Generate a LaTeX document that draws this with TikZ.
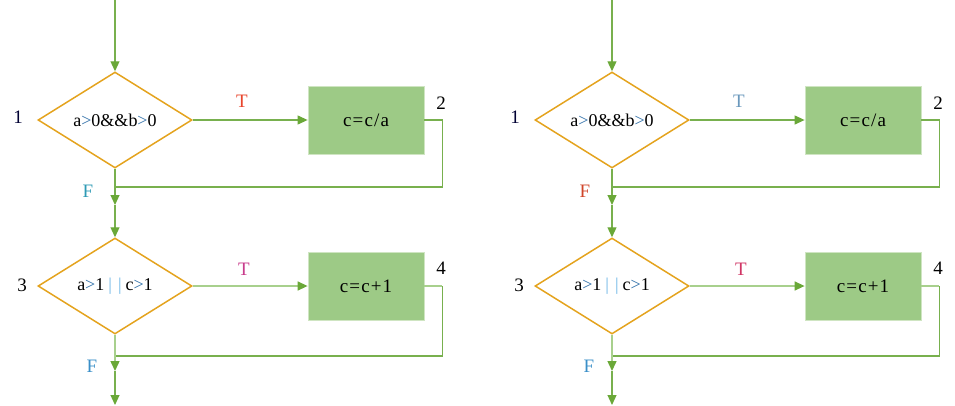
\documentclass[tikz,border=0pt]{standalone}
\usepackage{fontspec}
\setmainfont{Liberation Serif}
\usetikzlibrary{shapes.geometric,arrows.meta}
\definecolor{lnG}{HTML}{78B04E}
\definecolor{lnL}{HTML}{A8D08D}
\definecolor{tipG}{HTML}{6AA838}
\definecolor{dmO}{HTML}{E4A31E}
\definecolor{bxG}{HTML}{9DCA86}
\definecolor{bxB}{HTML}{CFE5C2}
\definecolor{gtB}{HTML}{2F6FA8}
\definecolor{barB}{HTML}{6DB6E6}
\tikzset{
  dec/.style={diamond,draw=dmO,line width=1.5pt,minimum width=154pt,minimum height=96pt,inner sep=0pt,font=\fontsize{18}{18}\selectfont},
  proc/.style={rectangle,fill=bxG,draw=bxB,line width=0.8pt,minimum width=116pt,minimum height=68pt,inner sep=0pt,font=\fontsize{19}{19}\selectfont\addfontfeature{LetterSpace=6}},
  flow/.style={draw=lnG,line width=1.2pt},
  flowL/.style={draw=lnL,line width=1.4pt},
  arr/.style={-{Triangle[length=10pt,width=9pt,color=tipG]}},
  lab/.style={font=\fontsize{19}{19}\selectfont,inner sep=0pt}
}
\newcommand{\gt}{\textcolor{gtB}{>}}
\newcommand{\br}{\textcolor{barB}{|}}
\begin{document}
\begin{tikzpicture}[x=1pt,y=-1pt]
\useasboundingbox (0,0) rectangle (955,405);
\foreach \p/\ox/\ca/\cb/\cc/\cd in {L/0/E8452C/2E9AB5/C83C8C/3A8FC8, R/497/6A98BC/D0452A/D03565/3A8FC8}{
  \begin{scope}[xshift=\ox pt]
    \definecolor{tA}{HTML}{\ca}\definecolor{fA}{HTML}{\cb}\definecolor{tB}{HTML}{\cc}\definecolor{fB}{HTML}{\cd}
    \node[dec] (\p d1) at (115,120) {a\gt0\&\&b\gt0};
    \node[proc] (\p b1) at (366,120) {c=c/a};
    \node[dec] (\p d2) at (115,286) {a\gt1\hspace{4pt}\br\hspace{6pt}\br\hspace{4pt}c\gt1};
    \node[proc] (\p b2) at (366,286) {c=c+1};
    \coordinate (\p top) at (115,0);
    \coordinate (\p j1) at (115,187);
    \coordinate (\p a1) at (115,205);
    \coordinate (\p j2) at (115,356);
    \coordinate (\p a2) at (115,371);
    \coordinate (\p bot) at (115,405);
    \draw[flow,arr] (\p top) -- (\p d1.north);
    \draw[flow,arr] (\p d1.east) -- (\p b1.west);
    \draw[flow] (\p b1.east) -- ++(18,0) |- (\p j1);
    \draw[flow,arr] (\p d1.south) -- (\p a1);
    \draw[flow,arr] (\p a1) -- (\p d2.north);
    \draw[flowL,arr] (\p d2.east) -- (\p b2.west);
    \draw[flowL] (\p b2.east) -- ++(18,0);
    \draw[flow] ([xshift=18pt]\p b2.east) |- (\p j2);
    \draw[flowL,arr] (\p d2.south) -- (\p a2);
    \draw[flow,arr] (\p a2) -- (\p bot);
    \node[lab,text=black!80!blue] (\p n1) at (18,117) {1};
    \node[lab,text=tA] (\p t1) at (242,101) {T};
    \node[lab] (\p n2) at (441,103) {2};
    \node[lab,text=fA] (\p f1) at (88,191) {F};
    \node[lab] (\p n3) at (22,285) {3};
    \node[lab,text=tB] (\p t2) at (244,269) {T};
    \node[lab] (\p n4) at (441,268) {4};
    \node[lab,text=fB] (\p f2) at (92,366) {F};
  \end{scope}
}
\end{tikzpicture}
\end{document}
